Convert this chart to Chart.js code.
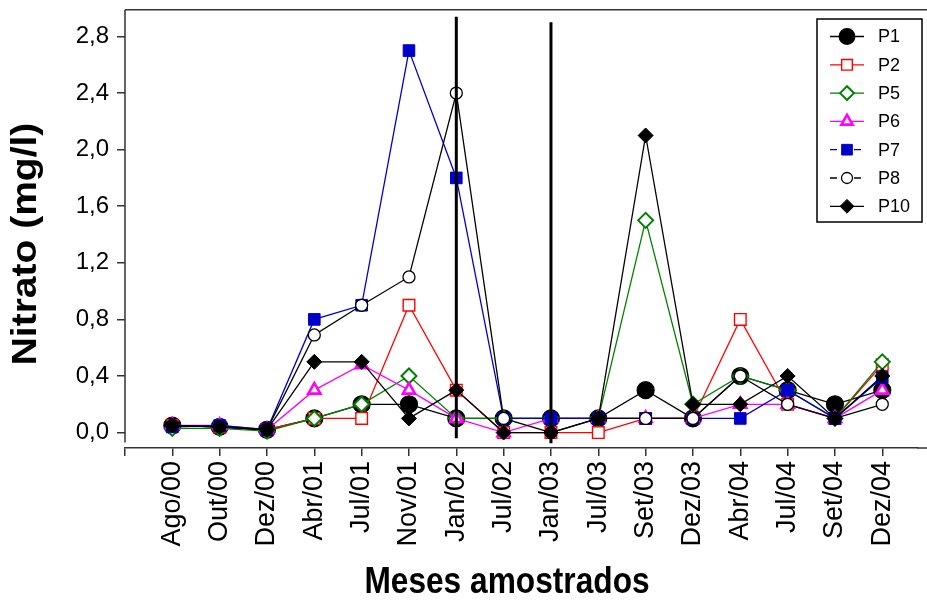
<!DOCTYPE html>
<html>
<head>
<meta charset="utf-8">
<title>Nitrato</title>
<script src="https://cdn.jsdelivr.net/npm/chart.js@4.4.1/dist/chart.umd.min.js"></script>
<style>
  html, body { margin: 0; padding: 0; background: #fff; }
  #wrap { width: 927px; height: 600px; position: relative; }
  canvas { display: block; }
</style>
</head>
<body>
<div id="wrap"><canvas id="c" width="927" height="600"></canvas></div>
<script>
// Sampling months (x categories)
const months = ['Ago/00','Out/00','Dez/00','Abr/01','Jul/01','Nov/01','Jan/02','Jul/02',
                'Jan/03','Jul/03','Set/03','Dez/03','Abr/04','Jul/04','Set/04','Dez/04'];

// Nitrate (mg/l) per sampling point
const P1  = [0.05,0.04,0.02,0.10,0.20,0.20,0.10,0.10,0.10,0.10,0.30,0.10,0.40,0.30,0.20,0.30];
const P2  = [0.05,0.04,0.02,0.10,0.10,0.90,0.30,0.00,0.00,0.00,0.10,0.10,0.80,0.20,0.10,0.48];
const P5  = [0.03,0.03,0.01,0.10,0.20,0.40,0.10,0.10,0.10,0.10,1.50,0.20,0.40,0.30,0.10,0.50];
const P6  = [0.05,0.05,0.02,0.30,0.48,0.30,0.10,0.00,0.10,0.10,0.10,0.10,0.20,0.20,0.10,0.30];
const P7  = [0.04,0.05,0.02,0.80,0.90,2.70,1.80,0.10,0.10,0.10,0.10,0.10,0.10,0.30,0.10,0.39];
const P8  = [0.05,0.04,0.02,0.69,0.90,1.10,2.40,0.10,0.00,0.10,0.10,0.10,0.40,0.20,0.10,0.20];
const P10 = [0.05,0.04,0.02,0.50,0.50,0.10,0.30,0.00,0.00,0.10,2.10,0.20,0.20,0.40,0.10,0.40];

// Y tick values
const yTickValues = [0, 0.4, 0.8, 1.2, 1.6, 2.0, 2.4, 2.8];

// Vertical separators between sampling campaigns
const separators = [
  { month: 'Jan/02', low: -0.04,  high: 2.94 },
  { month: 'Jan/03', low: -0.075, high: 2.90 }
];

const FONT = '"Liberation Sans", Arial, Helvetica, sans-serif';

const seriesDefs = [
  { label: 'P1',  values: P1,  color: '#000000', fill: '#000000', style: 'circle',   radius: 8.5, bw: 1.2, dashLegend: false },
  { label: 'P2',  values: P2,  color: '#ff0000', fill: '#ffffff', style: 'rect',     radius: 8.2, bw: 1.4, dashLegend: false },
  { label: 'P5',  values: P5,  color: '#008000', fill: '#ffffff', style: 'rectRot',  radius: 7.5, bw: 2.0, dashLegend: false },
  { label: 'P6',  values: P6,  color: '#ff00ff', fill: '#ffffff', style: 'triangle', radius: 7.0, bw: 2.6, dashLegend: false },
  { label: 'P7',  values: P7,  color: '#0000cc', fill: '#0000cc', style: 'rect',     radius: 8.2, bw: 1.0, dashLegend: true },
  { label: 'P8',  values: P8,  color: '#000000', fill: '#ffffff', style: 'circle',   radius: 6.0, bw: 1.3, dashLegend: true },
  { label: 'P10', values: P10, color: '#000000', fill: '#000000', style: 'rectRot',  radius: 7.5, bw: 1.0, dashLegend: false }
];

const datasets = seriesDefs.map((s, i) => ({
  label: s.label,
  data: s.values.map((v, k) => ({ x: k, y: v })),
  borderColor: s.color,
  borderWidth: 1.3,
  pointStyle: s.style,
  pointRadius: s.radius,
  pointHoverRadius: s.radius,
  pointBackgroundColor: s.fill,
  pointBorderColor: s.color,
  pointBorderWidth: s.bw,
  tension: 0,
  order: seriesDefs.length - i,
  dashLegend: s.dashLegend
}));

separators.forEach(sep => {
  const k = months.indexOf(sep.month);
  datasets.push({
    label: '',
    isSeparator: true,
    data: [{ x: k, y: sep.low }, { x: k, y: sep.high }],
    borderColor: '#000000',
    borderWidth: 3,
    pointRadius: 0,
    tension: 0,
    order: 0
  });
});

// Titles are drawn slightly condensed horizontally, like the rest of the figure
const TITLE_SQUEEZE = 0.88;

// Frame, axis titles and legend box
const decorations = {
  id: 'decorations',
  beforeDatasetsDraw(chart) {
    const { ctx, chartArea, scales } = chart;
    ctx.save();
    ctx.strokeStyle = '#333333';
    ctx.lineWidth = 1.5;
    ctx.beginPath();
    // top frame runs to the canvas edge
    ctx.moveTo(chartArea.left, chartArea.top);
    ctx.lineTo(chart.width, chartArea.top);
    // left axis stops just below zero
    ctx.moveTo(chartArea.left, chartArea.top);
    ctx.lineTo(chartArea.left, scales.y.getPixelForValue(-0.07));
    // bottom axis continues to the canvas edge
    ctx.moveTo(chartArea.right, chartArea.bottom);
    ctx.lineTo(chart.width, chartArea.bottom);
    ctx.stroke();
    ctx.restore();
  },
  afterDraw(chart) {
    const { ctx } = chart;
    ctx.save();
    ctx.fillStyle = '#000000';
    ctx.font = 'bold 36px ' + FONT;
    ctx.textAlign = 'center';
    ctx.textBaseline = 'middle';
    ctx.save();
    ctx.translate(507, 583);
    ctx.scale(TITLE_SQUEEZE, 1);
    ctx.fillText('Meses amostrados', 0, 0);
    ctx.restore();
    ctx.save();
    ctx.translate(27, 244);
    ctx.scale(TITLE_SQUEEZE, 1);
    ctx.rotate(-Math.PI / 2);
    ctx.font = 'bold 39px ' + FONT;
    ctx.fillText('Nitrato (mg/l)', 0, 0);
    ctx.restore();
    ctx.restore();

    // legend
    const bx = 817, by = 19, bw = 105, bh = 203;
    ctx.save();
    ctx.fillStyle = '#ffffff';
    ctx.fillRect(bx, by, bw, bh);
    ctx.strokeStyle = '#000000';
    ctx.lineWidth = 1.5;
    ctx.strokeRect(bx, by, bw, bh);
    chart.data.datasets.filter(d => !d.isSeparator).forEach((d, i) => {
      const y = 36.5 + i * 28.3;
      ctx.strokeStyle = d.borderColor;
      ctx.lineWidth = 1.3;
      ctx.setLineDash(d.dashLegend ? [7, 5] : []);
      ctx.beginPath();
      ctx.moveTo(830, y);
      ctx.lineTo(864, y);
      ctx.stroke();
      ctx.setLineDash([]);
      ctx.fillStyle = d.pointBackgroundColor;
      ctx.strokeStyle = d.pointBorderColor;
      ctx.lineWidth = d.pointBorderWidth;
      Chart.helpers.drawPoint(ctx, {
        pointStyle: d.pointStyle, rotation: 0,
        radius: d.pointRadius * 0.92, borderWidth: d.pointBorderWidth
      }, 847, y);
      ctx.fillStyle = '#000000';
      ctx.font = '18px ' + FONT;
      ctx.textAlign = 'left';
      ctx.textBaseline = 'middle';
      ctx.fillText(d.label, 878, y + 1);
    });
    ctx.restore();
  }
};

new Chart(document.getElementById('c'), {
  type: 'line',
  data: { datasets },
  options: {
    responsive: false,
    animation: false,
    devicePixelRatio: 1,
    layout: { padding: { top: 8, right: 0, left: 0, bottom: 0 } },
    plugins: { legend: { display: false }, tooltip: { enabled: false } },
    scales: {
      x: {
        type: 'linear',
        min: -1,
        max: 15.74,
        afterBuildTicks: s => { s.ticks = [-1].concat(months.map((m, k) => k)).map(v => ({ value: v })); },
        afterFit: s => { s.height = 152; s.paddingLeft = 0; s.paddingRight = 0; },
        ticks: {
          callback: v => (months[v] !== undefined ? months[v] : ''),
          autoSkip: false,
          minRotation: 90,
          maxRotation: 90,
          padding: 5,
          color: '#000000',
          font: { family: FONT, size: 27 }
        },
        grid: { display: true, drawOnChartArea: false, drawTicks: true, tickLength: 8, color: '#333333', lineWidth: 1.5 },
        border: { display: true, color: '#333333', width: 1.5 }
      },
      y: {
        type: 'linear',
        min: -0.109,
        max: 2.989,
        afterBuildTicks: s => { s.ticks = yTickValues.map(v => ({ value: v })); },
        afterFit: s => { s.width = 125; s.paddingTop = 0; s.paddingBottom = 0; },
        ticks: {
          callback: v => v.toFixed(1).replace('.', ','),
          padding: 8,
          color: '#000000',
          font: { family: FONT, size: 24 }
        },
        grid: { display: true, drawOnChartArea: false, drawTicks: true, tickLength: 8, color: '#333333', lineWidth: 1.5 },
        border: { display: false }
      }
    }
  },
  plugins: [decorations]
});
</script>
</body>
</html>
